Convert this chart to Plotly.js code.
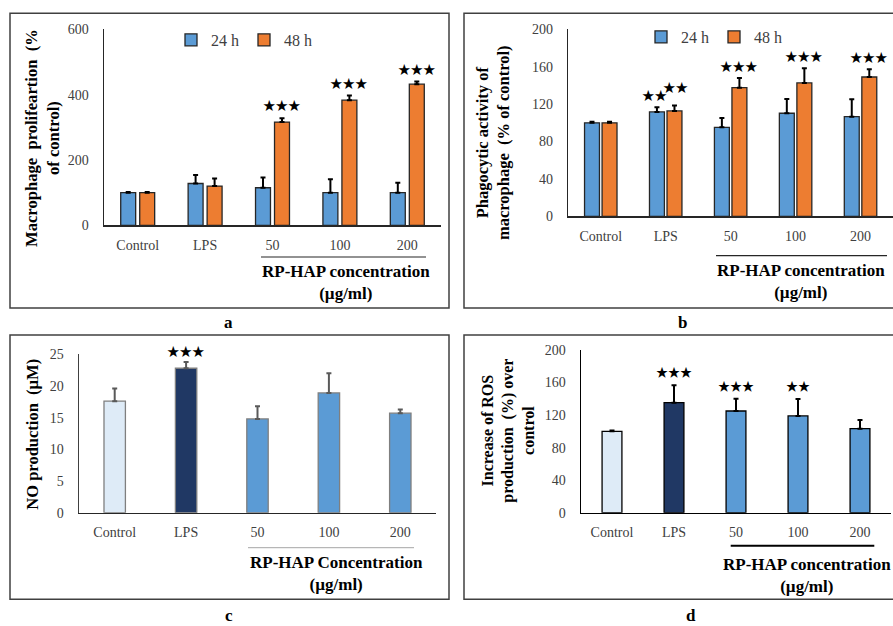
<!DOCTYPE html>
<html><head><meta charset="utf-8">
<script src="https://cdn.plot.ly/plotly-3.0.1.min.js"></script>
<style>html,body{margin:0;padding:0;background:#fff}</style>
</head><body><div id="chart" style="width:893px;height:626px"></div>
<script>
// ---------- data ----------
const categories = ['Control', 'LPS', '50', '100', '200'];
const seriesNames = ['24 h', '48 h'];

// (a) Macrophage proliferation (% of control)
const prolif24 = [100, 128, 115, 100, 100];
const prolif24Err = [2, 26, 31, 41, 30];
const prolif48 = [100, 120, 316, 383, 432];
const prolif48Err = [2, 23, 12, 14, 8];
const prolif24Stars = ['', '', '', '', ''];
const prolif48Stars = ['', '', '★★★', '★★★', '★★★'];

// (b) Phagocytic activity (% of control)
const phago24 = [100, 111.6, 95.2, 110.2, 106.6];
const phago24Err = [1, 5, 10, 15.3, 18.5];
const phago48 = [100, 112.7, 137.6, 142.6, 149];
const phago48Err = [1, 5.7, 10.4, 15.7, 8.2];
const phago24Stars = ['', '★★', '', '', ''];
const phago48Stars = ['', '★★', '★★★', '★★★', '★★★'];

// (c) NO production (µM)
const noProd = [17.6, 22.8, 14.8, 18.9, 15.7];
const noProdErr = [2.0, 1.0, 2.0, 3.1, 0.6];
const noProdStars = ['', '★★★', '', '', ''];

// (d) ROS production (% over control)
const ros = [100, 135.2, 125, 118.9, 103.3];
const rosErr = [1, 21.4, 15.2, 20.9, 10.6];
const rosStars = ['', '★★★', '★★★', '★★', ''];

// ---------- style ----------
const BLUE = '#5B9BD5', ORANGE = '#ED7D31', LIGHT = '#DEEBF7', NAVY = '#203864';
const singleColors = [LIGHT, NAVY, BLUE, BLUE, BLUE];
const SERIF = 'Liberation Serif, Times New Roman, serif';
const STAR_FONT = 'Noto Sans CJK JP, DejaVu Sans';
const W = 893, H = 626;
const px = v => v / W;
const py = v => 1 - v / H;
const zeros = categories.map(() => 0);

function bar(y, err, opts) {
  return Object.assign({
    type: 'bar', x: categories, y: y,
    error_y: {type: 'data', array: err, arrayminus: zeros, symmetric: false,
              color: opts.errColor || '#000', thickness: 2, width: 2.5},
    marker: {color: opts.color, line: {color: opts.lineColor || '#262626', width: 1.3}},
    hoverinfo: 'skip'
  }, opts.extra);
}

const G = {a: {w: 0.222, o24: -0.252, o48: 0.03}, b: {w: 0.23, o24: -0.25, o48: 0.02}};

const traces = [
  bar(prolif24, prolif24Err, {color: BLUE, extra: {name: seriesNames[0], xaxis: 'x', yaxis: 'y', width: G.a.w, offset: G.a.o24, legend: 'legend'}}),
  bar(prolif48, prolif48Err, {color: ORANGE, extra: {name: seriesNames[1], xaxis: 'x', yaxis: 'y', width: G.a.w, offset: G.a.o48, legend: 'legend'}}),
  bar(phago24, phago24Err, {color: BLUE, extra: {name: seriesNames[0], xaxis: 'x2', yaxis: 'y2', width: G.b.w, offset: G.b.o24, legend: 'legend2'}}),
  bar(phago48, phago48Err, {color: ORANGE, extra: {name: seriesNames[1], xaxis: 'x2', yaxis: 'y2', width: G.b.w, offset: G.b.o48, legend: 'legend2'}}),
  bar(noProd, noProdErr, {color: singleColors, lineColor: '#7F7F7F', errColor: '#595959', extra: {name: 'NO', xaxis: 'x3', yaxis: 'y3', width: 0.30, showlegend: false}}),
  bar(ros, rosErr, {color: singleColors, lineColor: '#000', extra: {name: 'ROS', xaxis: 'x4', yaxis: 'y4', width: 0.32, showlegend: false}})
];

const tickFont = {family: SERIF, size: 14, color: '#404040'};
function xAx(d0, d1, anchor, lc) {
  return {domain: [px(d0), px(d1)], anchor: anchor, type: 'category', showline: true,
          linecolor: lc || '#262626', linewidth: 1.5, ticks: '', showgrid: false, zeroline: false,
          tickfont: tickFont, ticklabelstandoff: 6, fixedrange: true};
}
function yAx(b, t, anchor, range, dtick, lc) {
  return {domain: [py(b), py(t)], anchor: anchor, range: range, tickmode: 'linear', tick0: 0, dtick: dtick,
          showline: true, linecolor: lc || '#262626', linewidth: 1.5, ticks: '', showgrid: false,
          zeroline: false, tickfont: tickFont, ticklabelstandoff: 11, fixedrange: true};
}

const annotations = [];
function stars(labels, vals, errs, xref, yref, pos, size, shiftFn, xshiftFn) {
  labels.forEach((s, i) => {
    if (!s) return;
    annotations.push({xref: xref, yref: yref, x: i + pos, y: vals[i] + errs[i], text: s,
      showarrow: false, xanchor: 'center', yanchor: 'bottom', borderpad: 0,
      yshift: shiftFn ? shiftFn(i) : 2, xshift: xshiftFn ? xshiftFn(i) : 0,
      font: {family: STAR_FONT, size: size, weight: 'bold', color: '#000'}});
  });
}
stars(prolif24Stars, prolif24, prolif24Err, 'x', 'y', G.a.o24 + G.a.w / 2, 12.5, () => 3);
stars(prolif48Stars, prolif48, prolif48Err, 'x', 'y', G.a.o48 + G.a.w / 2, 12.5, () => 3);
stars(phago24Stars, phago24, phago24Err, 'x2', 'y2', G.b.o24 + G.b.w / 2, 12.5, () => 2, () => -2);
stars(phago48Stars, phago48, phago48Err, 'x2', 'y2', G.b.o48 + G.b.w / 2, 12.5, i => (i === 1 ? 9 : 2), i => (i === 1 ? 2 : 0));
stars(noProdStars, noProd, noProdErr, 'x3', 'y3', 0, 12.5, () => 1);
stars(rosStars, ros, rosErr, 'x4', 'y4', 0, 12, () => 4);

function paperText(text, x, y, size, angle) {
  annotations.push({xref: 'paper', yref: 'paper', x: px(x), y: py(y), text: text, showarrow: false,
    xanchor: 'center', yanchor: 'middle', align: 'center', textangle: angle || 0,
    font: {family: SERIF, size: size, color: '#000'}});
}
// y-axis titles
paperText('<b>Macrophage  prolifeartion  (%<br>of control)</b>', 42.5, 138.5, 16.6, -90);
paperText('<b>Phagocytic activity of<br>macrophage  (% of control)</b>', 493, 143, 16.5, -90);
paperText('<b>NO production  (µM)</b>', 31.7, 434, 16.5, -90);
paperText('<b>Increase of ROS<br>production  (%) over<br>control</b>', 507.7, 431, 16, -90);
// x-axis group titles
paperText('<b>RP-HAP concentration<br>(µg/ml)</b>', 346, 282.5, 17);
paperText('<b>RP-HAP concentration<br>(µg/ml)</b>', 801, 281, 17);
paperText('<b>RP-HAP Concentration<br>(µg/ml)</b>', 336, 573.5, 17);
paperText('<b>RP-HAP concentration<br>(µg/ml)</b>', 806.7, 575, 17);
// panel letters
paperText('<b>a</b>', 229, 322.5, 17);
paperText('<b>b</b>', 682, 322.5, 17);
paperText('<b>c</b>', 229, 615.5, 17);
paperText('<b>d</b>', 691, 615.5, 17);

function rect(x0, y0, x1, y1) {
  return {type: 'rect', xref: 'paper', yref: 'paper', x0: px(x0), x1: px(x1), y0: py(y0), y1: py(y1),
          line: {color: '#404040', width: 1.5}, fillcolor: 'rgba(0,0,0,0)', layer: 'below'};
}
function hline(x0, x1, y, color, width) {
  return {type: 'line', xref: 'paper', yref: 'paper', x0: px(x0), x1: px(x1), y0: py(y), y1: py(y),
          line: {color: color, width: width}};
}
const shapes = [
  rect(10, 13.3, 449, 308), rect(464, 13.3, 896, 308),
  rect(10, 335, 449, 599.3), rect(464, 335, 896, 599.3),
  hline(261, 426, 257, '#262626', 1.2), hline(716, 887, 255.7, '#262626', 1.2),
  hline(248, 414, 547.7, '#A6A6A6', 1), hline(730.7, 874.3, 545.7, '#000', 2)
];

const legendBase = {orientation: 'h', xanchor: 'center', yanchor: 'middle', bgcolor: 'rgba(0,0,0,0)',
  font: {family: SERIF, size: 16, color: '#404040'}, itemwidth: 30, itemclick: false, itemdoubleclick: false};

const layout = {
  width: W, height: H, margin: {l: 0, r: 0, t: 0, b: 0},
  paper_bgcolor: '#fff', plot_bgcolor: 'rgba(0,0,0,0)',
  barmode: 'overlay', showlegend: true, hovermode: false,
  font: {family: SERIF, color: '#404040'},
  xaxis: xAx(104, 441, 'y'), yaxis: yAx(225.3, 29.3, 'x', [0, 600], 200),
  xaxis2: xAx(568.3, 893, 'y2'), yaxis2: yAx(216.3, 29.3, 'x2', [0, 200], 40),
  xaxis3: xAx(79, 436, 'y3'), yaxis3: yAx(512.7, 354.3, 'x3', [0, 25], 5, '#404040'),
  xaxis4: xAx(581, 891, 'y4', '#000'), yaxis4: yAx(512.7, 350, 'x4', [0, 200], 40, '#000'),
  legend: Object.assign({x: px(244), y: py(40)}, legendBase),
  legend2: Object.assign({x: px(714), y: py(37)}, legendBase),
  annotations: annotations, shapes: shapes
};

Plotly.newPlot('chart', traces, layout, {displayModeBar: false, staticPlot: true});
</script>
</body></html>
